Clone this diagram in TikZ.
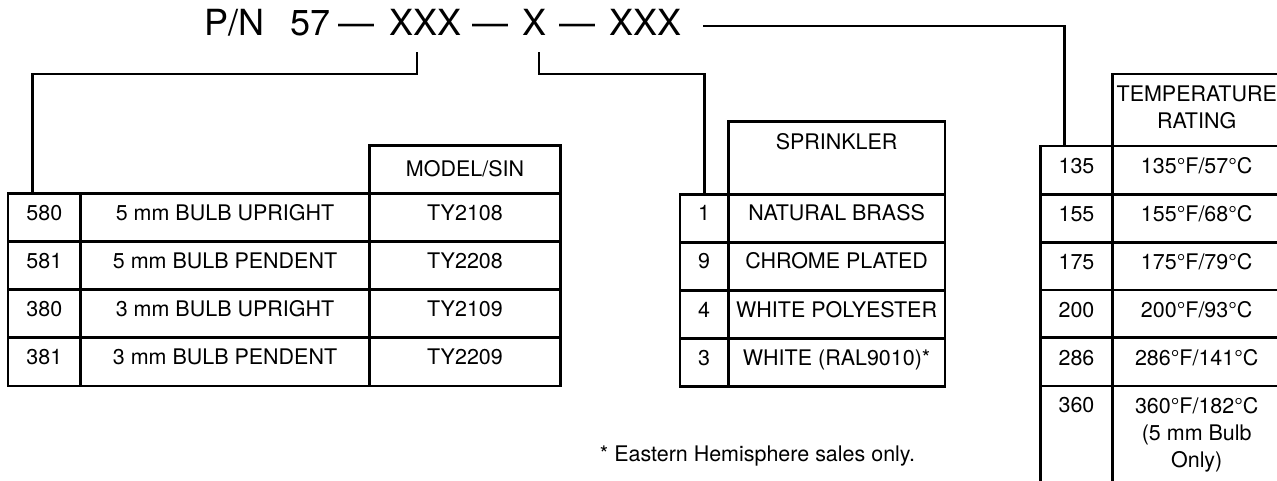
\documentclass[tikz,border=0pt]{standalone}
\usepackage{fontspec}
\setmainfont{TeX Gyre Heros}
\begin{document}
\begin{tikzpicture}[x=0.75pt,y=-0.75pt,
  grid/.style={line width=2pt, line join=miter},
  conn/.style={line width=2pt, line join=miter},
  txt/.style={font=\fontsize{16.1}{20}\selectfont, inner sep=0pt, anchor=base},
  mtxt/.style={font=\fontsize{16.1}{20}\selectfont, inner sep=0pt, anchor=north, align=center},
  ttl/.style={font=\fontsize{27}{32}\selectfont, inner sep=0pt, anchor=base west}]
\useasboundingbox (0,0) rectangle (1277,480);
\clip (0,0) rectangle (1277,480);

% ---------- title ----------
\node[ttl] (pn)  at (204,35) {P/N};
\node[ttl] (n57) at (290,35) {57};
\node[ttl] (d1)  at (338,35) {—};
\node[ttl] (x1)  at (389,35) {XXX};
\node[ttl] (d2)  at (472,35) {—};
\node[ttl] (x2)  at (522,35) {X};
\node[ttl] (d3)  at (559,35) {—};
\node[ttl] (x3)  at (609,35) {XXX};

% ---------- left table ----------
\draw[grid] (369.3,145.7) rectangle (560.7,193.3);
\node[txt] (hmodel) at (465,176.5) {MODEL/SIN};
\draw[grid] (8,193.3) rectangle (560.7,386);
\foreach \yy in {241.5,289.7,337.8} \draw[grid] (8,\yy) -- (560.7,\yy);
\draw[grid] (80.7,193.3) -- (80.7,386);
\draw[grid] (369.3,193.3) -- (369.3,386);
\foreach \n/\d/\m [count=\i] in {580/5 mm BULB UPRIGHT/TY2108,581/5 mm BULB PENDENT/TY2208,380/3 mm BULB UPRIGHT/TY2109,381/3 mm BULB PENDENT/TY2209}{
  \node[txt] (ln\i) at (44.3,{220.2+48.2*(\i-1)}) {\n};
  \node[txt] (ld\i) at (225,{220.2+48.2*(\i-1)}) {\d};
  \node[txt] (lm\i) at (465,{220.2+48.2*(\i-1)}) {\m};
}

% ---------- middle table ----------
\draw[grid] (728.3,121.7) rectangle (945,194.3);
\node[txt] (hspr) at (836.6,149.2) {SPRINKLER};
\draw[grid] (680,194.3) rectangle (945,386.7);
\foreach \yy in {242.5,290.6,338.7} \draw[grid] (680,\yy) -- (945,\yy);
\draw[grid] (728.3,194.3) -- (728.3,386.7);
\foreach \n/\d [count=\i] in {1/NATURAL BRASS,9/CHROME PLATED,4/WHITE POLYESTER,3/WHITE (RAL9010)*}{
  \node[txt] (mn\i) at (704.2,{220.8+48.1*(\i-1)}) {\n};
  \node[txt] (md\i) at (836.6,{220.8+48.1*(\i-1)}) {\d};
}

% ---------- temperature table ----------
\draw[grid] (1112.3,74) rectangle (1281,146);
\node[mtxt] (htemp) at (1196.7,85.8) {TEMPERATURE\\RATING};
\draw[grid] (1040.7,146) rectangle (1281,495);
\foreach \yy in {194.3,242.3,290,337.3,386} \draw[grid] (1040.7,\yy) -- (1281,\yy);
\draw[grid] (1112.3,146) -- (1112.3,495);
\foreach \n/\d [count=\i] in {135/{135°F/57°C},155/{155°F/68°C},175/{175°F/79°C},200/{200°F/93°C},286/{286°F/141°C}}{
  \node[txt] (tn\i) at (1076.5,{173.5+48*(\i-1)}) {\n};
  \node[txt] (td\i) at (1196.7,{173.5+48*(\i-1)}) {\d};
}
\node[txt] (tn6) at (1076.5,412.5) {360};
\node[mtxt] (td6) at (1196.7,397.5) {360°F/182°C\\(5 mm Bulb\\Only)};

% ---------- footnote ----------
\node[txt] (foot) at (757.5,461.5) {* Eastern Hemisphere sales only.};

% ---------- connectors ----------
\coordinate (lA) at (417,52);
\coordinate (lB) at (32.7,193.3);
\coordinate (mA) at (539,52);
\coordinate (mB) at (704.3,194.3);
\coordinate (rA) at (703,26);
\coordinate (rB) at (1064.3,146);
\draw[conn] (lA) -- ++(0,22) -| (lB);
\draw[conn] (mA) -- ++(0,22) -| (mB);
\draw[conn] (rA) -| (rB);
\end{tikzpicture}
\end{document}
